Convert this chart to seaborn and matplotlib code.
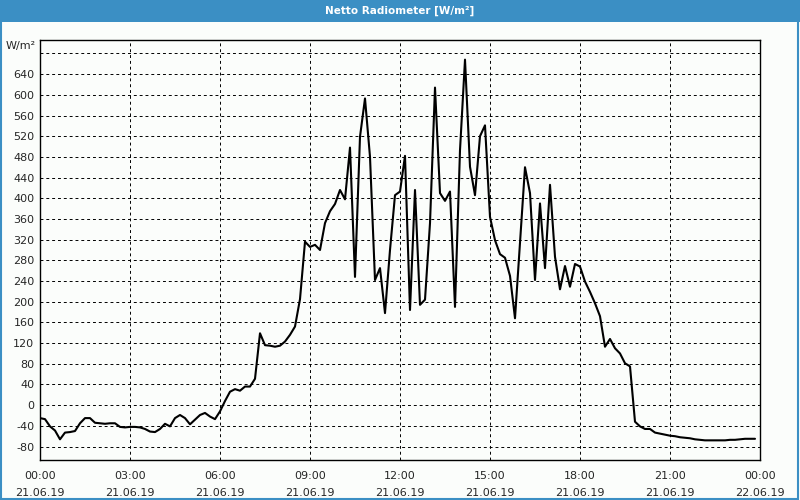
import numpy as np
import pandas as pd
import matplotlib
matplotlib.use("Agg")
import matplotlib.pyplot as plt
from matplotlib.patches import Rectangle
import seaborn as sns

# ---- Data (10 min readings, 21.06.19) ----
times = [
    "00:00", "00:10", "00:20", "00:30", "00:40", "00:50", "01:00", "01:10", "01:20", "01:30", "01:40", "01:50",
    "02:00", "02:10", "02:20", "02:30", "02:40", "02:50", "03:00", "03:10", "03:20", "03:30", "03:40", "03:50",
    "04:00", "04:10", "04:20", "04:30", "04:40", "04:50", "05:00", "05:10", "05:20", "05:30", "05:40", "05:50",
    "06:00", "06:10", "06:20", "06:30", "06:40", "06:50", "07:00", "07:10", "07:20", "07:30", "07:40", "07:50",
    "08:00", "08:10", "08:20", "08:30", "08:40", "08:50", "09:00", "09:10", "09:20", "09:30", "09:40", "09:50",
    "10:00", "10:10", "10:20", "10:30", "10:40", "10:50", "11:00", "11:10", "11:20", "11:30", "11:40", "11:50",
    "12:00", "12:10", "12:20", "12:30", "12:40", "12:50", "13:00", "13:10", "13:20", "13:30", "13:40", "13:50",
    "14:00", "14:10", "14:20", "14:30", "14:40", "14:50", "15:00", "15:10", "15:20", "15:30", "15:40", "15:50",
    "16:00", "16:10", "16:20", "16:30", "16:40", "16:50", "17:00", "17:10", "17:20", "17:30", "17:40", "17:50",
    "18:00", "18:10", "18:20", "18:30", "18:40", "18:50", "19:00", "19:10", "19:20", "19:30", "19:40", "19:50",
    "20:00", "20:10", "20:20", "20:30", "20:40", "20:50", "21:00", "21:10", "21:20", "21:30", "21:40", "21:50",
    "22:00", "22:10", "22:20", "22:30", "22:40", "22:50", "23:00", "23:10", "23:20", "23:30", "23:40", "23:50",
]
radiation = [
    -25, -27, -41, -49, -66, -53, -52, -50, -35, -25, -25, -34,
    -35, -36, -35, -35, -42, -43, -42, -42, -43, -46, -51, -52,
    -46, -36, -41, -25, -19, -25, -37, -28, -19, -15, -22, -27,
    -12, 8, 26, 31, 28, 36, 36, 51, 139, 116, 115, 113,
    115, 123, 136, 152, 205, 316, 306, 310, 300, 352, 375, 389,
    416, 398, 498, 248, 519, 593, 480, 242, 265, 178, 300, 406,
    413, 482, 184, 416, 194, 204, 352, 614, 410, 395, 413, 190,
    493, 668, 461, 406, 520, 541, 364, 319, 292, 285, 250, 168,
    314, 460, 410, 242, 390, 265, 426, 287, 224, 269, 229, 273,
    268, 239, 219, 197, 172, 113, 128, 110, 100, 81, 75, -32,
    -41, -46, -46, -53, -55, -57, -59, -60, -62, -63, -64, -66,
    -67, -68, -68, -68, -68, -68, -67, -67, -66, -65, -65, -65,
]

x_ticks = [0, 3, 6, 9, 12, 15, 18, 21, 24]
x_tick_labels = [
    "00:00\n21.06.19", "03:00\n21.06.19", "06:00\n21.06.19", "09:00\n21.06.19", "12:00\n21.06.19",
    "15:00\n21.06.19", "18:00\n21.06.19", "21:00\n21.06.19", "00:00\n22.06.19",
]
y_ticks = list(range(-80, 681, 40))
y_tick_labels = [str(v) for v in y_ticks[:-1]] + [""]

df = pd.DataFrame({"time": times, "value": radiation})
hm = df["time"].str.split(":", expand=True).astype(int)
df["hours"] = hm[0] + hm[1] / 60

bg = "#fbfdfb"
blue = "#3b8fc4"

sns.set_style("white")
plt.rcParams["font.family"] = ["DejaVu Sans"]

fig = plt.figure(figsize=(8, 5), dpi=100, facecolor=bg)
ax = fig.add_axes([0.05, 0.08, 0.90, 0.84], facecolor=bg)

sns.lineplot(data=df, x="hours", y="value", estimator=None, color="black", linewidth=1.5, ax=ax)

ax.set_xlim(0, 24)
ax.set_ylim(-106, 706)
ax.set_xticks(x_ticks)
ax.set_xticklabels(x_tick_labels, fontsize=8, linespacing=1.8)
ax.set_xticks(range(0, 25), minor=True)
ax.set_yticks(y_ticks)
ax.set_yticklabels(y_tick_labels, fontsize=8)
ax.tick_params(axis="x", which="both", direction="out", length=3, width=0.8, color="black", pad=5)
ax.tick_params(axis="y", length=0, pad=4)
ax.set_xlabel("")
ax.set_ylabel("")

ax.grid(True, which="major", color="black", linestyle=(0, (3, 3)), linewidth=0.7)
for s in ax.spines.values():
    s.set_color("black")
    s.set_linewidth(1.0)

# title bar and frame
fig.patches.append(Rectangle((0, 1 - 22 / 500), 1, 22 / 500, transform=fig.transFigure,
                             facecolor=blue, edgecolor="none", zorder=0))
fig.patches.append(Rectangle((0.001, 0.002), 0.997, 0.996, transform=fig.transFigure,
                             facecolor="none", edgecolor=blue, linewidth=1.5, zorder=5))
fig.text(0.5, 1 - 11 / 500, "Netto Radiometer [W/m²]", color="white", fontsize=7.5,
         fontweight="bold", ha="center", va="center")
fig.text(36 / 800, 1 - 46 / 500, "W/m²", fontsize=8, ha="right", va="center")

fig.savefig("out.png", dpi=100, facecolor=bg)
